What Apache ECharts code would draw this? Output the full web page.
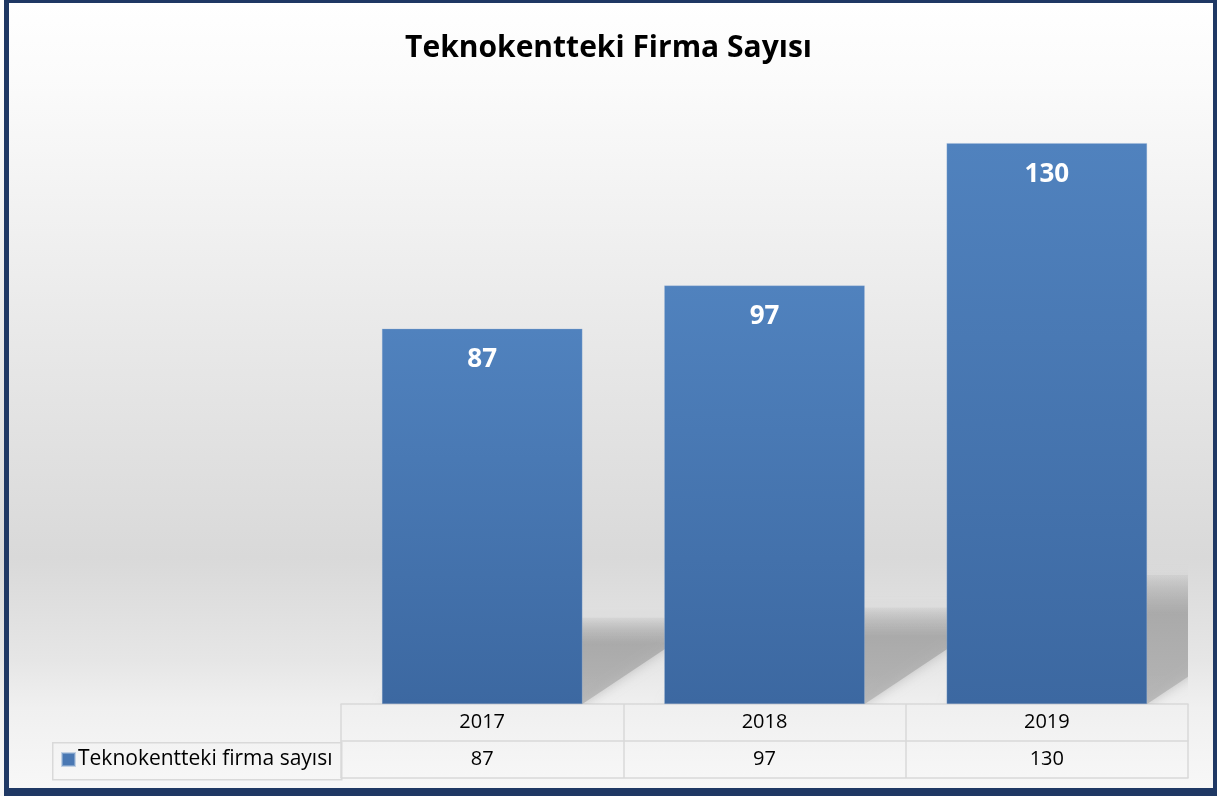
<!DOCTYPE html>
<html>
<head>
<meta charset="utf-8">
<script src="https://cdn.jsdelivr.net/npm/echarts@6/dist/echarts.min.js"></script>
<style>
  html, body { margin: 0; padding: 0; background: #fff; }
  #wrap { position: relative; width: 1217px; height: 796px; }
  #chart {
    position: absolute; left: 0; top: 0; width: 1217px; height: 796px;
    background: linear-gradient(180deg, #ffffff 0%, #fbfbfb 10%, #ebebeb 38%, #d9d9d9 70%, #e6e6e6 83%, #f0f0f0 89%, #f8f8f8 100%);
  }
  #frame {
    position: absolute; left: 4px; top: 0; width: 1213px; height: 796px; box-sizing: border-box;
    border-style: solid; border-color: #1f3864; border-width: 3px 4px 8px 5px;
    pointer-events: none;
  }
</style>
</head>
<body>
<div id="wrap">
  <div id="chart"></div>
  <div id="frame"></div>
</div>
<script>
// data
const years = ['2017', '2018', '2019'];
const firmCounts = [87, 97, 130];
const seriesName = 'Teknokentteki firma sayısı';
const chartTitle = 'Teknokentteki Firma Sayısı';

const FONT = '"Open Sans", "Noto Sans", sans-serif';
const GAP = 0.29; // bar category gap
const tableLine = '#d9d9d9';

const chart = echarts.init(document.getElementById('chart'));

// soft floor shadow behind each bar, built from the bar's own coords
function renderShadow(params, api) {
  const top = api.coord([api.value(0), api.value(1)]);
  const base = api.coord([api.value(0), 0]);
  const bw = api.size([1, 0])[0] * (1 - GAP);
  const xl = top[0] - bw / 2, xr = top[0] + bw / 2;
  const H = base[1] - top[1];
  const sh = H * 0.23, ox = sh * 1.5;
  return {
    type: 'polygon',
    shape: { points: [[xl, base[1]], [xr, base[1]], [xr + ox, base[1] - sh], [xl + ox, base[1] - sh]] },
    style: {
      fill: new echarts.graphic.LinearGradient(0, 0, 0, 1, [
        { offset: 0, color: 'rgba(170,170,170,0.15)' },
        { offset: 0.3, color: 'rgba(165,165,165,0.8)' },
        { offset: 1, color: 'rgba(178,178,178,0.8)' }
      ]),
      shadowBlur: 12,
      shadowColor: 'rgba(160,160,160,0.7)'
    }
  };
}

chart.setOption({
  animation: false,
  backgroundColor: 'transparent',
  title: {
    text: chartTitle, left: 'center', top: 28,
    textStyle: { fontFamily: FONT, fontSize: 30, fontWeight: 'bold', color: '#000' }
  },
  legend: {
    data: [seriesName], left: 61, top: 749, padding: 0,
    icon: 'rect', itemWidth: 13, itemHeight: 13, itemGap: 6,
    itemStyle: { color: '#4a78b3' },
    textStyle: { fontFamily: FONT, fontSize: 21, color: '#000', padding: [0, 0, 0, -2] }
  },
  grid: { left: 341, right: 29, top: 100, bottom: 92 },
  xAxis: [
    {
      type: 'category', data: years, position: 'bottom',
      axisLine: { show: true, lineStyle: { color: tableLine, width: 1.5 } },
      axisTick: { show: true, length: 74, lineStyle: { color: tableLine, width: 1.5 } },
      axisLabel: { margin: 8, fontFamily: FONT, fontSize: 20, color: '#000' }
    },
    {
      type: 'category', data: years, position: 'bottom', offset: 37,
      axisLine: { show: true, lineStyle: { color: tableLine, width: 1.5 } },
      axisTick: { show: false },
      axisLabel: { margin: 8, fontFamily: FONT, fontSize: 20, color: '#000', formatter: (v, i) => String(firmCounts[i]) }
    },
    {
      type: 'category', data: years, position: 'bottom', offset: 74,
      axisLine: { show: true, lineStyle: { color: tableLine, width: 1.5 } },
      axisTick: { show: false },
      axisLabel: { show: false }
    }
  ],
  yAxis: { type: 'value', min: 0, max: 140, show: false, splitLine: { show: false } },
  graphic: [
    {
      type: 'rect', left: 52, top: 742, z: 10,
      shape: { width: 289, height: 37 },
      style: { fill: 'transparent', stroke: tableLine, lineWidth: 1.5 }
    }
  ],
  series: [
    {
      type: 'custom', name: 'shadow', z: 1, clip: true, silent: true,
      renderItem: renderShadow,
      data: years.map((y, i) => [y, firmCounts[i]])
    },
    {
      type: 'bar', name: seriesName, z: 2,
      data: firmCounts,
      barCategoryGap: (GAP * 100) + '%',
      itemStyle: {
        color: new echarts.graphic.LinearGradient(0, 0, 0, 1, [
          { offset: 0, color: '#5082be' },
          { offset: 1, color: '#3c68a1' }
        ]),
        borderColor: 'rgba(160,185,215,0.6)', borderWidth: 0.5
      },
      label: {
        show: true, position: 'insideTop', distance: 18,
        fontFamily: FONT, fontSize: 26, fontWeight: 'bold', color: '#fff'
      }
    }
  ]
});
</script>
</body>
</html>
